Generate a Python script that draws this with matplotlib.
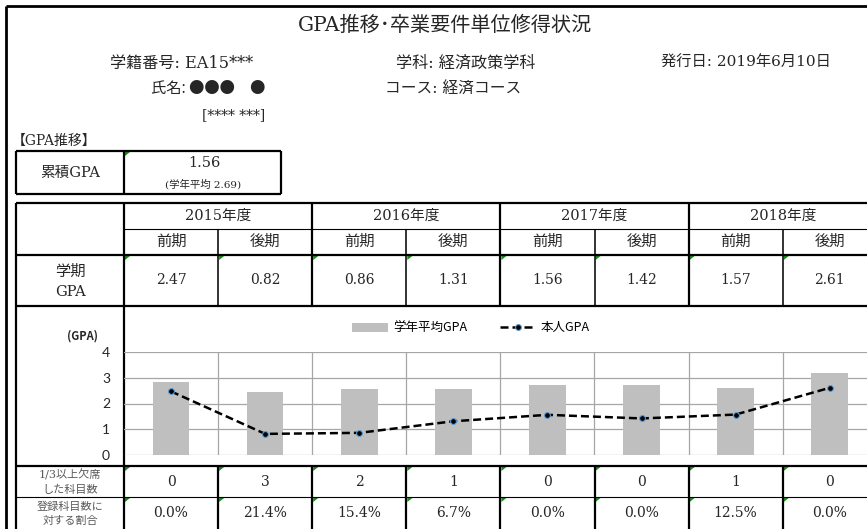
import matplotlib
matplotlib.use('Agg')
import matplotlib.pyplot as plt
from matplotlib.patches import Polygon

# ---------------- data ----------------
title = 'GPA推移･卒業要件単位修得状況'
years = ['2015年度', '2016年度', '2017年度', '2018年度']
terms = ['前期', '後期']
student_gpa = [2.47, 0.82, 0.86, 1.31, 1.56, 1.42, 1.57, 2.61]
avg_gpa = [2.83, 2.43, 2.56, 2.56, 2.73, 2.73, 2.60, 3.20]
absent_counts = [0, 3, 2, 1, 0, 0, 1, 0]
absent_ratio = [0.0, 21.4, 15.4, 6.7, 0.0, 0.0, 12.5, 0.0]
cum_gpa = 1.56
cum_avg = 2.69
yticks = [0, 1, 2, 3, 4]

# ---------------- layout ----------------
SER = ['DejaVu Serif', 'Noto Sans CJK JP']
SANS = ['Noto Sans CJK JP', 'DejaVu Sans']
TXT = '#262626'
GRAY_TXT = '#595959'

fig = plt.figure(figsize=(8.67, 5.29), dpi=100)
ov = fig.add_axes([0, 0, 1, 1])
ov.set_xlim(0, 867)
ov.set_ylim(529, 0)
ov.axis('off')

THICK = 1.6
THIN = 0.8


def hline(y, x0, x1, lw):
    ov.plot([x0, x1], [y, y], color='k', lw=lw, solid_capstyle='butt')


def vline(x, y0, y1, lw):
    ov.plot([x, x], [y0, y1], color='k', lw=lw, solid_capstyle='butt')


def tri(x, y):
    ov.add_patch(Polygon([[x + 1, y + 1], [x + 6, y + 1], [x + 1, y + 5]],
                         closed=True, color='#1a8a1a', lw=0))


# outer frame
vline(6, 6, 529, 2.0)
hline(6, 6, 867, 2.0)

# header texts
ov.text(445, 25, title, ha='center', va='center', fontsize=14.5, family=SER, color=TXT)
ov.text(253, 63, '学籍番号: EA15***', ha='right', va='center', fontsize=11.6, family=SER, color=TXT)
ov.text(396, 63, '学科: 経済政策学科', ha='left', va='center', fontsize=11.6, family=SER, color=TXT)
ov.text(661, 63, '発行日: 2019年6月10日', ha='left', va='center', fontsize=11, family=SER, color=TXT)
ov.text(265, 88, '氏名: ●●●\u3000●', ha='right', va='center', fontsize=11,
        family=['Noto Sans CJK JP', 'DejaVu Serif'], color=TXT)
ov.text(385, 88, 'コース: 経済コース', ha='left', va='center', fontsize=11.3, family=SER, color=TXT)
ov.text(265, 115, '[**** ***]', ha='right', va='center', fontsize=10, family=SER, color=TXT)
ov.text(12, 141, '【GPA推移】', ha='left', va='center', fontsize=10, family=SER, color=TXT)

# cumulative GPA box
hline(151, 16, 281, THICK)
hline(194, 16, 281, THICK)
vline(16, 151, 194, THICK)
vline(124, 151, 194, THICK)
vline(281, 151, 194, THICK)
ov.text(70, 173, '累積GPA', ha='center', va='center', fontsize=10.5, family=SER, color=TXT)
ov.text(204, 163, f'{cum_gpa:.2f}', ha='center', va='center', fontsize=10.5, family=SER, color=TXT)
ov.text(203, 184, f'(学年平均 {cum_avg:.2f})', ha='center', va='center', fontsize=7.5, family=SER, color=TXT)
tri(124, 151)

# main table grid
XL, XC, W = 16, 124, 94.1
xs = [XC + i * W for i in range(9)]
Y0, Y1, Y2, Y3, Y4, Y5, Y6 = 203, 229, 255, 306, 466, 497, 529
XR = 867

hline(Y0, XL, XR, THICK)
hline(Y1, XC, XR, THIN)
hline(Y2, XL, XR, THICK)
hline(Y3, XL, XR, THICK)
hline(Y4, XL, XR, THICK)
hline(Y5, XL, XR, THIN)
vline(XL, Y0, Y6, THICK)
vline(XC, Y0, Y6, THICK)
for i in range(1, 9):
    if i % 2 == 0:
        vline(xs[i], Y0, Y3, THICK)
    else:
        vline(xs[i], Y1, Y3, THIN * 1.4)
    vline(xs[i], Y4, Y6, THICK)

for k, yname in enumerate(years):
    ov.text(xs[2 * k] + W, (Y0 + Y1) / 2, yname, ha='center', va='center',
            fontsize=10.5, family=SER, color=TXT)
for i in range(8):
    cx = xs[i] + W / 2
    ov.text(cx, (Y1 + Y2) / 2, terms[i % 2], ha='center', va='center',
            fontsize=11, family=SER, color=TXT)
    ov.text(cx, (Y2 + Y3) / 2, f'{student_gpa[i]:.2f}', ha='center', va='center',
            fontsize=10, family=SER, color=TXT)
    ov.text(cx, (Y4 + Y5) / 2, f'{absent_counts[i]}', ha='center', va='center',
            fontsize=10, family=SER, color=TXT)
    ov.text(cx, (Y5 + Y6) / 2, f'{absent_ratio[i]:.1f}%', ha='center', va='center',
            fontsize=10, family=SER, color=TXT)
    tri(xs[i], Y2)
    tri(xs[i], Y4)
    tri(xs[i], Y5)

ov.text(70, 272, '学期', ha='center', va='center', fontsize=11, family=SER, color=TXT)
ov.text(70, 292, 'GPA', ha='center', va='center', fontsize=10.5, family=SER, color=TXT)
ov.text(70, 475, '1/3以上欠席', ha='center', va='center', fontsize=8, family=SER, color=GRAY_TXT)
ov.text(70, 490, 'した科目数', ha='center', va='center', fontsize=8, family=SER, color=GRAY_TXT)
ov.text(70, 507, '登録科目数に', ha='center', va='center', fontsize=8, family=SER, color=GRAY_TXT)
ov.text(70, 521, '対する割合', ha='center', va='center', fontsize=8, family=SER, color=GRAY_TXT)
ov.text(82, 336, '(GPA)', ha='center', va='center', fontsize=8, fontweight='bold',
        family=SANS, color=TXT)

# ---------------- chart ----------------
y_zero, y_top = 455, 352
ax = fig.add_axes([XC / 867, (529 - y_zero) / 529, 8 * W / 867, (y_zero - y_top) / 529])
ax.patch.set_alpha(0)
xpos = list(range(len(student_gpa)))
bars = ax.bar(xpos, avg_gpa, width=0.39, color='#bfbfbf', label='学年平均GPA', zorder=2)
line, = ax.plot(xpos, student_gpa, ls=(0, (3.2, 1.6)), color='k', lw=1.8, marker='o', ms=4.2,
                mfc='k', mec='#5b9bd5', mew=0.8, label='本人GPA', zorder=3, clip_on=False)
ax.set_xlim(-0.5, 7.5)
ax.set_ylim(0, 4)
ax.set_xticks([])
ax.set_yticks(yticks)
for yv in yticks:
    ax.axhline(yv, color='#a6a6a6', lw=0.9, zorder=1)
for i in range(1, 8):
    ax.axvline(i - 0.5, color='#a6a6a6', lw=0.9, zorder=1)
for s in ax.spines.values():
    s.set_visible(False)
ax.tick_params(axis='y', length=0, pad=10, labelsize=10, labelcolor=TXT)
for lab in ax.get_yticklabels():
    lab.set_family(['Lato', 'DejaVu Sans'])

ax.legend([bars, line], ['学年平均GPA', '本人GPA'], loc='center',
          bbox_to_anchor=(471 / 867, 1 - 328 / 529),
          bbox_transform=fig.transFigure, ncol=2, frameon=False,
          handlelength=2.9, columnspacing=2.6, handletextpad=0.4,
          prop={'family': SANS, 'size': 9})

fig.savefig('out.png', dpi=100)
